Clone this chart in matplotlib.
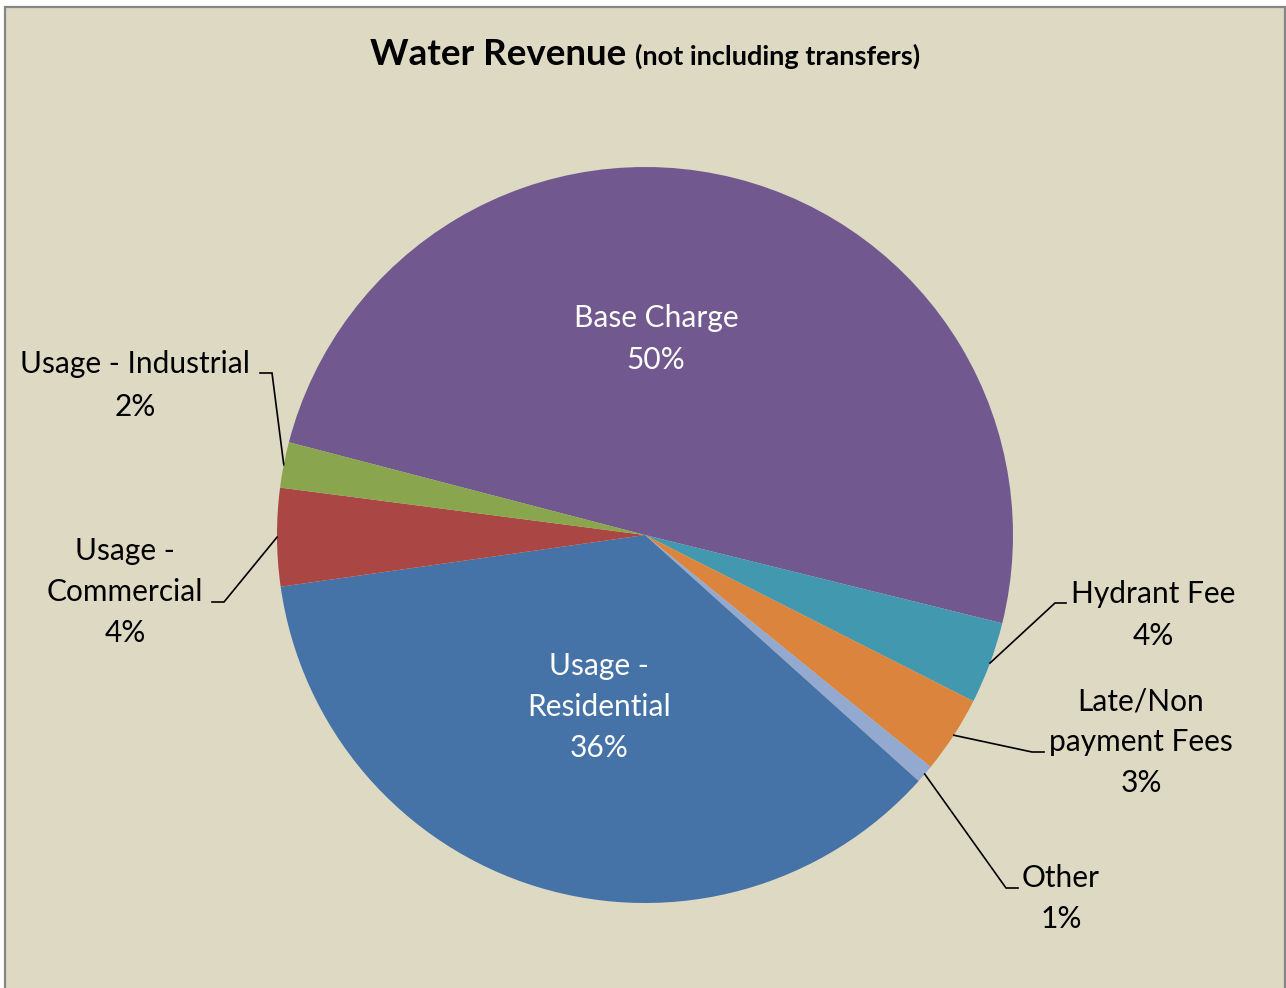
import numpy as np
import matplotlib
matplotlib.use("Agg")
import matplotlib.pyplot as plt
from matplotlib.patches import Rectangle

# revenue shares, clockwise from the Base Charge slice
categories = ["Base Charge", "Hydrant Fee", "Late/Non\npayment Fees", "Other",
              "Usage -\nResidential", "Usage -\nCommercial", "Usage - Industrial"]
shares = [49.8, 3.6, 3.4, 0.8, 36.1, 4.3, 2.0]
colors = ["#71588F", "#4198AF", "#DB843D", "#93A9CF",
          "#4572A7", "#AA4643", "#89A54E"]

W, H = 1286, 988
BG = "#DDD9C3"
plt.rcParams["font.family"] = ["Lato", "DejaVu Sans"]

fig = plt.figure(figsize=(W / 100, H / 100), dpi=100, facecolor="white")
ax = fig.add_axes([0, 0, 1, 1])
ax.set_xlim(0, W)
ax.set_ylim(0, H)
ax.set_aspect("equal")
ax.axis("off")

# chart area
ax.add_patch(Rectangle((5, -10), W - 6, H - 7 + 10, facecolor=BG,
                       edgecolor="#868686", linewidth=1.6, zorder=0))

cx, cy, r = 645, H - 535, 368
wedges, _ = ax.pie(shares, colors=colors, startangle=165.4, counterclock=False,
                   center=(cx, cy), radius=r, frame=True,
                   wedgeprops=dict(linewidth=0))
ax.set_xlim(0, W)
ax.set_ylim(0, H)
ax.axis("off")

total = sum(shares)
pct = [f"{v / total * 100:.0f}%" for v in shares]

# label layout: text centre x, first baseline (from top), line step, leader elbow/end
label_pos = {
    0: (656, 327, 42, None),
    4: (599, 675, 41, None),
    6: (135, 373, 43, ((272, 373), (260, 373))),
    5: (125, 560, 41, ((224, 602), (212, 602))),
    1: (1153, 603, 42, ((1055, 603), (1066, 603))),
    2: (1141, 710, 41, ((1032, 752), (1044, 752))),
    3: (1061, 887, 41, ((1006, 888), (1018, 888))),
}

for i, (x, y0, step, leader) in label_pos.items():
    lines = categories[i].split("\n") + [pct[i]]
    color = "white" if leader is None else "black"
    for k, line in enumerate(lines):
        ax.text(x, H - (y0 + k * step), line, ha="center", va="baseline",
                fontsize=21.5, color=color, zorder=5)
    if leader is not None:
        w = wedges[i]
        mid = np.deg2rad((w.theta1 + w.theta2) / 2)
        px, py = cx + r * np.cos(mid), cy + r * np.sin(mid)
        (ex, ey), (fx, fy) = leader
        ax.plot([px, ex, fx], [py, H - ey, H - fy], color="black",
                linewidth=1.2, zorder=4, solid_joinstyle="miter")

# title in two sizes on one baseline
t1 = ax.text(0, H - 65, "Water Revenue", fontsize=26.5, fontweight="bold",
             ha="left", va="baseline")
t2 = ax.text(0, H - 65, "(not including transfers)", fontsize=19.5,
             fontweight="bold", ha="left", va="baseline")
renderer = fig.canvas.get_renderer()
w1 = t1.get_window_extent(renderer).width
w2 = t2.get_window_extent(renderer).width
gap = 8
left = 645 - (w1 + gap + w2) / 2
t1.set_x(left)
t2.set_x(left + w1 + gap)

fig.savefig("out.png", dpi=100, facecolor="white")
